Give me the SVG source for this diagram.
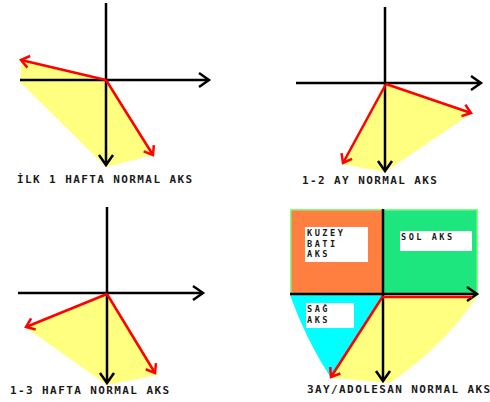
<svg xmlns="http://www.w3.org/2000/svg" width="490" height="402" viewBox="0 0 490 402">
<style>
.ax{stroke:#000;stroke-width:2.5;fill:none;marker-end:url(#ka)}
.rd{stroke:#f00;stroke-width:2.5;fill:none;marker-end:url(#ra)}
.yl{fill:#ffff80;stroke:none}
.t{font-family:"DejaVu Sans Mono","Liberation Mono",monospace;font-weight:bold;font-size:11px;letter-spacing:1.4px;fill:#1a1a1a}
.s{font-size:8.6px;letter-spacing:2.5px}
.b{fill:#fff}
</style>
<defs>
<marker id="ka" markerUnits="userSpaceOnUse" markerWidth="24" markerHeight="24" viewBox="-12 -12 24 24" refX="0" refY="0" orient="auto" overflow="visible">
<path d="M-10,-7 L0,0 L-10,7" fill="none" stroke="#000" stroke-width="2.5"/>
</marker>
<marker id="ra" markerUnits="userSpaceOnUse" markerWidth="24" markerHeight="24" viewBox="-12 -12 24 24" refX="0" refY="0" orient="auto" overflow="visible">
<path d="M-8,-6 L0,0 L-8,6" fill="none" stroke="#f00" stroke-width="2.5"/>
</marker>
</defs>
<rect width="490" height="402" fill="#fff"/>

<g id="panel1">
<polygon class="yl" points="22,60 106,80 153,155 106,167 20,82"/>
<line class="ax" x1="106" y1="3" x2="106" y2="165"/>
<line class="ax" x1="20" y1="80" x2="209" y2="80"/>
<line class="rd" x1="106" y1="80" x2="21" y2="60"/>
<line class="rd" x1="106" y1="80" x2="153" y2="155"/>
<text class="t" x="17" y="183">İLK 1 HAFTA NORMAL AKS</text>
</g>

<g id="panel2">
<polygon class="yl" points="385,83 342,164 385,172 472,113"/>
<line class="ax" x1="385" y1="7" x2="385" y2="171"/>
<line class="ax" x1="296" y1="83" x2="481" y2="83"/>
<line class="rd" x1="386" y1="84" x2="343" y2="163"/>
<line class="rd" x1="386" y1="84" x2="471" y2="113"/>
<text class="t" x="302" y="184">1-2 AY NORMAL AKS</text>
</g>

<g id="panel3">
<polygon class="yl" points="107,293 25,327 107,385 158,375"/>
<line class="ax" x1="107" y1="207" x2="107" y2="383"/>
<line class="ax" x1="18" y1="293" x2="203" y2="293"/>
<line class="rd" x1="107" y1="294" x2="26" y2="327"/>
<line class="rd" x1="107" y1="294" x2="155" y2="373"/>
<text class="t" x="10" y="394">1-3 HAFTA NORMAL AKS</text>
</g>

<g id="panel4">
<rect x="290" y="209" width="188" height="86" fill="#80ff80"/>
<rect x="291.5" y="210.5" width="91" height="84" fill="#ff7f40"/>
<rect x="383" y="210.5" width="93.5" height="84" fill="#1de67e"/>
<path d="M290,295 L383,295 L331,378 Q306,340 290,295 Z" fill="#00ffff"/>
<path d="M383,295 L478,295 Q445,345 390,383 L331,378 Z" class="yl"/>
<rect class="b" x="305" y="227" width="63" height="35"/>
<rect class="b" x="400" y="231" width="72" height="20"/>
<rect class="b" x="306" y="303" width="48" height="25"/>
<text class="t s" x="307" y="236">KUZEY</text>
<text class="t s" x="307" y="246.5">BATI</text>
<text class="t s" x="307" y="257">AKS</text>
<text class="t s" x="401" y="240">SOL AKS</text>
<text class="t s" x="307" y="312">SAĞ</text>
<text class="t s" x="307" y="322.5">AKS</text>
<line class="ax" x1="383" y1="209" x2="383" y2="381"/>
<line class="ax" x1="290" y1="294" x2="477" y2="294"/>
<line stroke="#f00" stroke-width="2.5" x1="383" y1="297" x2="472" y2="297"/>
<line class="rd" x1="383" y1="296" x2="331" y2="377"/>
<text class="t" x="307" y="393">3AY/ADOLESAN NORMAL AKS</text>
</g>
</svg>
